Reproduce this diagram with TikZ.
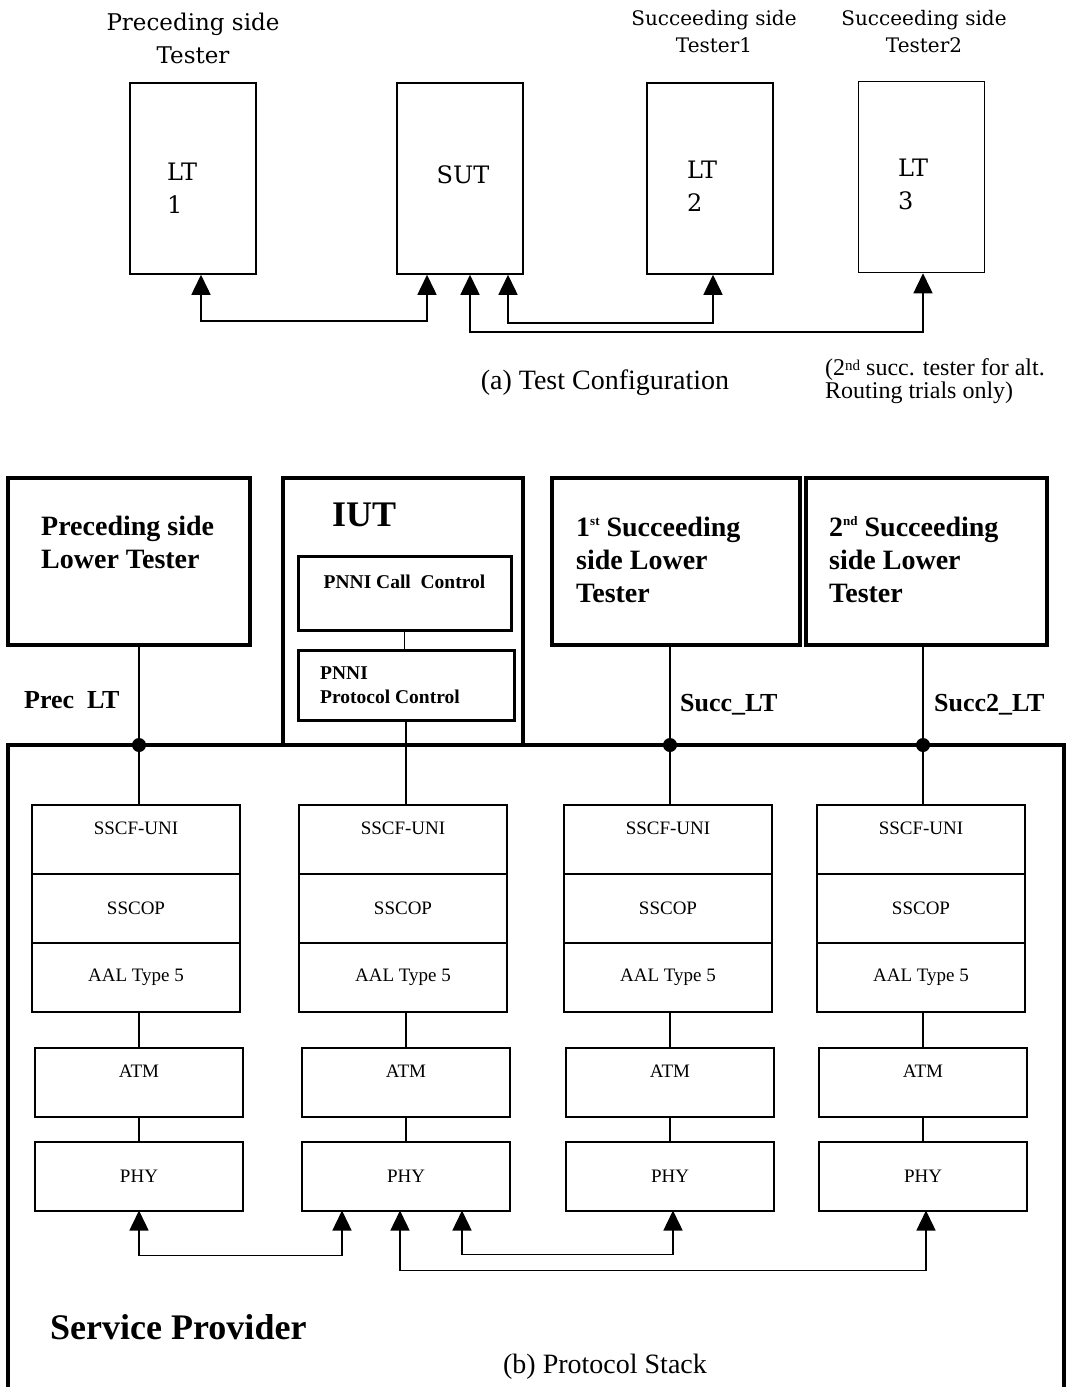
\documentclass[tikz,border=0pt]{standalone}
\usepackage{fontspec}
\setmainfont{Liberation Serif}
\newfontfamily\lucfont{DejaVu Serif}
\usepackage{tikz}
\usetikzlibrary{arrows.meta,positioning}

\tikzset{
    tbox/.style={draw, line width=1.5pt, minimum width=126pt, minimum height=191pt, inner sep=0pt},
    tlab/.style={font=\lucfont\fontsize{24}{33}\selectfont, align=left, inner sep=0pt},
    head/.style={font=\lucfont\fontsize{23}{33}\selectfont, align=center, inner sep=0pt},
    subhead/.style={font=\lucfont\fontsize{20}{27}\selectfont, align=center, inner sep=0pt},
    capt/.style={font=\fontsize{28}{32}\selectfont, inner sep=0pt},
    lbox/.style={draw, line width=3.5pt, minimum height=167pt, inner sep=0pt},
    blab/.style={font=\bfseries\fontsize{28}{33}\selectfont, align=left, inner sep=0pt, anchor=west},
    plab/.style={font=\bfseries\fontsize{26}{30}\selectfont, inner sep=0pt, anchor=west},
    ctrl/.style={draw, line width=3pt, inner sep=0pt},
    clab/.style={font=\bfseries\fontsize{19.5}{24}\selectfont, align=left, inner sep=0pt},
    layer/.style={draw, line width=2pt, minimum width=208pt, minimum height=69pt, inner sep=0pt, outer sep=0pt,
        font=\fontsize{19}{22}\selectfont},
    wire/.style={line width=1.5pt},
    heavy/.style={line width=3.5pt},
    link/.style={<->, line width=1.5pt}
}

\begin{document}
\begin{tikzpicture}[x=1pt, y=-1pt, >={Triangle[length=20pt,width=19pt]}]
    \useasboundingbox (0,0) rectangle (1066,1387);

    \node[head] (prechead) at (193,38.5) {Preceding side\\Tester};
    \node[subhead] (s1head) at (714,31.5) {Succeeding side\\Tester1};
    \node[subhead] (s2head) at (924,31.5) {Succeeding side\\Tester2};

    \node[tbox] (lt1) at (193,178.5) {};
    \node[tbox] (sut) at (460,178.5) {};
    \node[tbox] (lt2) at (710,178.5) {};
    \node[tbox] (lt3) at (921.5,177) {};
    \node[tlab, anchor=west] (lt1txt) at (167,188.5) {LT\\1};
    \node[tlab] (suttxt) at (463,175) {SUT};
    \node[tlab, anchor=west] (lt2txt) at (687,186) {LT\\2};
    \node[tlab, anchor=west] (lt3txt) at (898,184) {LT\\3};

    \draw[link] ([xshift=8pt]lt1.south) -- ++(0,46) -| ([xshift=-33pt]sut.south);
    \draw[link] ([xshift=10pt]sut.south) -- ++(0,57) -| ([xshift=1.5pt]lt3.south);
    \draw[link] ([xshift=48pt]sut.south) -- ++(0,48) -| ([xshift=3pt]lt2.south);

    \node[capt] (capa) at (605,383) {(a) Test Configuration};
    \node[font=\fontsize{24}{23}\selectfont, align=left, inner sep=0pt, anchor=west] (altnote) at (825,381.5)
        {(2{\fontsize{15}{15}\selectfont\raisebox{5pt}{nd}} succ. tester for alt.\\Routing trials only)};

    \node[lbox, minimum width=242pt] (prec) at (129,561.5) {};
    \node[blab] (prectxt) at (41,542.5) {Preceding side\\Lower Tester};
    \node[lbox, minimum width=240pt, minimum height=267pt] (iut) at (403,611.5) {};
    \node[font=\bfseries\fontsize{36}{40}\selectfont, inner sep=0pt, anchor=west] (iuttxt) at (332,515) {IUT};
    \node[ctrl, minimum width=213pt, minimum height=74pt] (call) at (404.5,593) {};
    \node[clab] (calltxt) at (404.5,582) {PNNI Call\ \ Control};
    \node[ctrl, minimum width=216pt, minimum height=70pt] (proto) at (406,685) {};
    \node[clab, anchor=west] (prototxt) at (320,685) {PNNI\\Protocol Control};
    \node[lbox, minimum width=248pt] (succa) at (676,561.5) {};
    \node[blab] (succatxt) at (576,559.5)
        {1{\fontsize{13}{13}\selectfont\raisebox{11pt}{st}} Succeeding\\side Lower\\Tester};
    \node[lbox, minimum width=241pt] (succb) at (926.5,561.5) {};
    \node[blab] (succbtxt) at (829,559.5)
        {2{\fontsize{13}{13}\selectfont\raisebox{11pt}{nd}} Succeeding\\side Lower\\Tester};

    \node[plab] (preclab) at (24,700) {Prec\ \ LT};
    \node[plab] (succlab) at (680,705) {Succ\_LT};
    \node[plab] (succ2lab) at (934,705) {Succ2\_LT};

    \coordinate (spBL) at (8,1392);
    \coordinate (spTL) at (8,745);
    \coordinate (spTR) at (1064,745);
    \coordinate (spBR) at (1064,1392);
    \draw[heavy] (spBL) -- (spTL) -- (spTR) -- (spBR);

    \foreach \i/\xa/\xb in {1/136/139, 2/403/406, 3/668/670, 4/921/923} {
        \node[layer, text depth=23pt] (sscf\i) at (\xa,839.5) {SSCF-UNI};
        \node[layer, below=0pt of sscf\i] (sscop\i) {SSCOP};
        \node[layer, below=0pt of sscop\i] (aal\i) {AAL Type 5};
        \node[layer, text depth=23pt] (atm\i) at (\xb,1082.5) {ATM};
        \node[layer] (phy\i) at (\xb,1176) {PHY};
        \draw[wire] (aal\i.south -| atm\i.north) -- (atm\i.north);
        \draw[wire] (atm\i.south) -- (phy\i.north);
    }

    \draw[wire] (call.south) -- (call.south |- proto.north);
    \draw[wire] (proto.south -| atm2.north) -- (sscf2.north -| atm2.north);
    \draw[wire] (prec.south -| atm1.north) -- (sscf1.north -| atm1.north);
    \draw[wire] (succa.south -| atm3.north) -- (sscf3.north -| atm3.north);
    \draw[wire] (succb.south -| atm4.north) -- (sscf4.north -| atm4.north);
    \fill (spTL -| atm1.north) circle (7pt);
    \fill (spTL -| atm3.north) circle (7pt);
    \fill (spTL -| atm4.north) circle (7pt);

    \draw[link] (phy1.south) -- ++(0,45) -| ([xshift=-64pt]phy2.south);
    \draw[link] ([xshift=56pt]phy2.south) -- ++(0,44) -| ([xshift=3pt]phy3.south);
    \draw[link] ([xshift=-6pt]phy2.south) -- ++(0,60) -| ([xshift=3pt]phy4.south);

    \node[font=\bfseries\fontsize{36}{40}\selectfont, inner sep=0pt, anchor=west] (sptxt) at (50,1327) {Service Provider};
    \node[capt] (capb) at (605,1367) {(b) Protocol Stack};
\end{tikzpicture}
\end{document}
